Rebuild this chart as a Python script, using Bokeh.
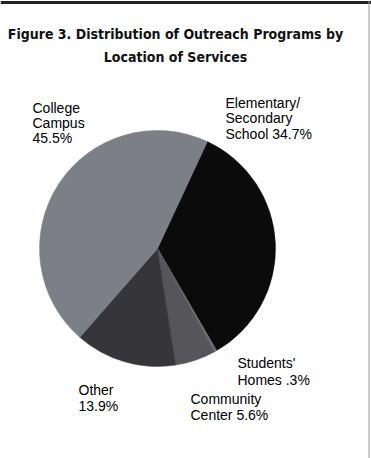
import math
from bokeh.plotting import figure
from bokeh.models import Range1d, Span
from bokeh.core.properties import value
from bokeh.embed import file_html
from bokeh.resources import INLINE

# ---- data ----
categories = ["Elementary/Secondary School", "Students' Homes", "Community Center", "Other", "College Campus"]
percents = [34.7, 0.3, 5.6, 13.9, 45.5]
slice_colors = ["#0b0b0c", "#6c6c70", "#56565a", "#36363a", "#7c7f85"]

label_lines = [
    ["College", "Campus", "45.5%"],
    ["Elementary/", "Secondary", "School 34.7%"],
    ["Students'", "Homes .3%"],
    ["Community", "Center 5.6%"],
    ["Other", "13.9%"],
]
title_lines = ["Figure 3. Distribution of Outreach Programs by", "Location of Services"]

# ---- layout (pixel space, y measured from top) ----
W, H = 371, 458
cx, cy_top, R = 157, 248, 118
start_offset_deg = 25.0  # clockwise from 12 o'clock
label_pos = [(32, [107, 122, 137]), (225, [102, 117, 133]), (237, [362, 379]),
             (190, [398, 414]), (78, [389, 405])]

p = figure(width=W, height=H, x_range=Range1d(0, W), y_range=Range1d(0, H),
           output_backend="svg", toolbar_location=None, min_border=0)
p.axis.visible = False
p.grid.visible = False
p.outline_line_color = None
p.background_fill_color = "white"
p.border_fill_color = "white"

# wedges, clockwise
cy = H - cy_top
total = sum(percents)
starts, ends = [], []
acc = 0.0
for v in percents:
    a0 = 90 - start_offset_deg - acc / total * 360
    acc += v
    a1 = 90 - start_offset_deg - acc / total * 360
    starts.append(math.radians(a0))
    ends.append(math.radians(a1))
p.wedge(x=[cx] * len(percents), y=[cy] * len(percents), radius=R,
        start_angle=starts, end_angle=ends, direction="clock",
        fill_color=slice_colors, line_color=slice_colors, line_width=0.5)

# labels
lab_font = value("Liberation Sans")
for lines, (lx, baselines) in zip(label_lines, label_pos):
    p.text(x=[lx] * len(lines), y=[H - b for b in baselines], text=lines,
           text_font=lab_font, text_font_size="14px", text_color="#000000",
           text_align="left", text_baseline="alphabetic")

# title
title_font = value("DejaVu Sans Condensed")
p.text(x=[175, 175], y=[H - 33, H - 56], text=title_lines,
       text_font=title_font, text_font_size="14px", text_font_style="bold",
       text_color="#111111", text_align="center", text_baseline="alphabetic")

# frame
p.add_layout(Span(location=H - 2, dimension="width", line_color="#222222", line_width=3))
p.add_layout(Span(location=368.5, dimension="height", line_color="#9a9a9a", line_width=1))

open("out.html", "w").write(file_html(p, INLINE))
